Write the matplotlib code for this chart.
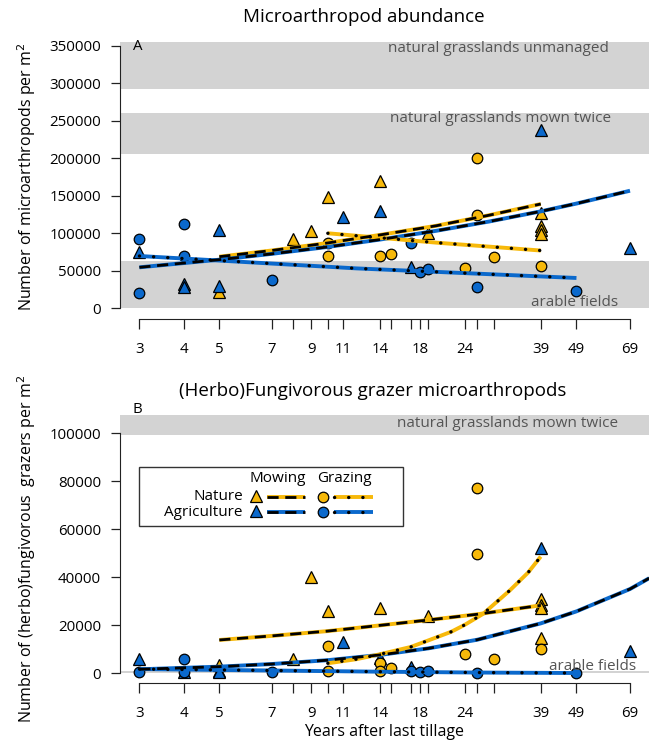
import numpy as np
import matplotlib
matplotlib.use('Agg')
import matplotlib.pyplot as plt
from matplotlib.lines import Line2D
from matplotlib.patches import Rectangle
from matplotlib.ticker import NullLocator, FixedLocator, FixedFormatter

plt.rcParams['font.family'] = ['Open Sans', 'DejaVu Sans']

# ---- data ----
xticks = [3, 4, 5, 7, 8, 9, 10, 11, 14, 15, 17, 18, 19, 24, 26, 29, 39, 49, 69]
xlabeled = [3, 4, 5, 7, 9, 11, 14, 18, 24, 39, 49, 69]

# panel A: total microarthropod abundance
a_natmow_t = [5, 8, 9, 10, 14, 19, 39, 39, 39, 39]
a_natmow_y = [22000, 92000, 103000, 148000, 170000, 101000, 127000, 110000, 104000, 99000]
a_agrmow_t = [3, 4, 4, 5, 5, 11, 14, 17, 39, 69]
a_agrmow_y = [75000, 33000, 29000, 104000, 30000, 122000, 130000, 55000, 238000, 80000]
a_natgra_t = [10, 10, 14, 15, 24, 26, 26, 29, 39]
a_natgra_y = [87000, 70000, 70000, 73000, 54000, 200000, 124000, 68000, 57000]
a_agrgra_t = [3, 3, 4, 4, 7, 17, 18, 19, 26, 49]
a_agrgra_y = [92000, 21000, 112000, 70000, 38000, 87000, 48000, 52000, 29000, 23000]

# panel A fitted trends
a_fit_natmow_t = [5, 7, 10, 14, 20, 28, 39]
a_fit_natmow_y = [68800, 77100, 87100, 97900, 110000, 124000, 139000]
a_fit_agrmow_t = [3, 5, 7, 10, 14, 20, 28, 39, 49, 69]
a_fit_agrmow_y = [54600, 64800, 72600, 81800, 91700, 103300, 115600, 129200, 139600, 156700]
a_fit_natgra_t = [10, 20, 39]
a_fit_natgra_y = [100000, 87500, 77000]
a_fit_agrgra_t = [3, 12, 49]
a_fit_agrgra_y = [69700, 53200, 40400]

# panel B: (herbo)fungivorous grazers
b_natmow_t = [5, 8, 9, 10, 14, 19, 39, 39, 39, 39]
b_natmow_y = [3500, 5800, 40000, 26000, 27100, 24000, 30800, 28500, 27000, 14600]
b_agrmow_t = [3, 4, 5, 5, 11, 14, 17, 39, 69]
b_agrmow_y = [5800, 500, 1000, 500, 12900, 6500, 2700, 52000, 9300]
b_natgra_t = [10, 10, 14, 14, 15, 24, 26, 26, 29, 39]
b_natgra_y = [11500, 1000, 4500, 1000, 2300, 8000, 77300, 49700, 5800, 10100]
b_agrgra_t = [3, 4, 4, 7, 17, 18, 19, 26, 49]
b_agrgra_y = [500, 6000, 500, 500, 1000, 500, 1000, 100, 0]

b_fit_natmow_t = [5, 7, 10, 14, 19, 26, 39]
b_fit_natmow_y = [13900, 15600, 17600, 20000, 22200, 24600, 28300]
b_fit_agrmow_t = [3, 5, 7, 10, 14, 19, 26, 39, 49, 69, 78]
b_fit_agrmow_y = [1700, 2800, 3900, 5500, 7700, 10400, 14000, 20800, 25800, 35100, 39600]
b_fit_natgra_t = [10, 12, 14, 17, 19, 22, 24, 27, 32, 36, 39]
b_fit_natgra_y = [4200, 5900, 8000, 11000, 13700, 17300, 20200, 24800, 34500, 42000, 48600]
b_fit_agrgra_t = [3, 7, 14, 26, 49]
b_fit_agrgra_y = [1800, 1200, 700, 350, 150]

ORANGE = '#F7B90A'
BLUE = '#0B69CC'
BAND = '#D3D3D3'
BANDTXT = '#555555'

W, H = 655, 744
fig = plt.figure(figsize=(W / 100, H / 100), dpi=100)

def fx(px):
    return px / W

def fy(py):
    return 1 - py / H

ax1 = fig.add_axes([fx(120), fy(318.8), fx(649) - fx(120), fy(35.2) - fy(318.8)])
ax2 = fig.add_axes([fx(120), fy(683), fx(649) - fx(120), fy(415) - fy(683)])

DASH = (4.0, 2.4)
DOT = (0.05, 4.2)


def trend(ax, t, y, col, style):
    ax.plot(t, y, color=col, lw=2.8, solid_capstyle='butt', zorder=4)
    if style == 'dash':
        ax.plot(t, y, color='black', lw=2.0, dashes=DASH, dash_capstyle='butt', zorder=5)
    else:
        ax.plot(t, y, color='black', lw=2.4, dashes=DOT, dash_capstyle='round', zorder=5)


def pts(ax, t, y, col, mk):
    ms = 9 if mk == '^' else 7.6
    ax.plot(t, y, ls='none', marker=mk, ms=ms, mfc=col, mec='black', mew=0.9, zorder=3)


def setup(ax, ylim, yticks, ybound):
    ax.set_xscale('log')
    ax.set_xlim(2.65, 77.9)
    ax.set_ylim(*ylim)
    for s in ['top', 'right']:
        ax.spines[s].set_visible(False)
    ax.spines['left'].set_bounds(ybound)
    ax.spines['bottom'].set_bounds(3, 69)
    ax.spines['left'].set_color('#222222')
    ax.spines['bottom'].set_color('#222222')
    ax.xaxis.set_major_locator(FixedLocator(xticks))
    ax.xaxis.set_major_formatter(FixedFormatter([str(v) if v in xlabeled else '' for v in xticks]))
    ax.xaxis.set_minor_locator(NullLocator())
    ax.set_yticks(yticks)
    ax.set_yticklabels([str(v) for v in yticks])
    ax.tick_params(axis='x', length=7.5, width=0.9, pad=9, labelsize=10.8, colors='#222222', labelcolor='black')
    ax.tick_params(axis='y', length=6.7, width=0.9, pad=7, labelsize=10.8, colors='#222222', labelcolor='black')


# ---- panel A ----
setup(ax1, (-14000, 364000), list(range(0, 350001, 50000)), (0, 350000))
for lo, hi in [(292500, 355000), (206000, 260500), (0, 63000)]:
    ax1.axhspan(lo, hi, color=BAND, lw=0, zorder=0)
pts(ax1, a_natmow_t, a_natmow_y, ORANGE, '^')
pts(ax1, a_agrmow_t, a_agrmow_y, BLUE, '^')
pts(ax1, a_natgra_t, a_natgra_y, ORANGE, 'o')
pts(ax1, a_agrgra_t, a_agrgra_y, BLUE, 'o')
trend(ax1, a_fit_natmow_t, a_fit_natmow_y, ORANGE, 'dash')
trend(ax1, a_fit_agrmow_t, a_fit_agrmow_y, BLUE, 'dash')
trend(ax1, a_fit_natgra_t, a_fit_natgra_y, ORANGE, 'dot')
trend(ax1, a_fit_agrgra_t, a_fit_agrgra_y, BLUE, 'dot')
ax1.set_ylabel('Number of microarthropods per m$^2$', fontsize=11.5, labelpad=8)

# ---- panel B ----
setup(ax2, (-4000, 107500), list(range(0, 100001, 20000)), (0, 100000))
ax2.axhspan(99300, 107500, color=BAND, lw=0, zorder=0)
ax2.axhspan(0, 900, color=BAND, lw=0, zorder=0)
pts(ax2, b_natmow_t, b_natmow_y, ORANGE, '^')
pts(ax2, b_agrmow_t, b_agrmow_y, BLUE, '^')
pts(ax2, b_natgra_t, b_natgra_y, ORANGE, 'o')
pts(ax2, b_agrgra_t, b_agrgra_y, BLUE, 'o')
trend(ax2, b_fit_natmow_t, b_fit_natmow_y, ORANGE, 'dash')
trend(ax2, b_fit_agrmow_t, b_fit_agrmow_y, BLUE, 'dash')
trend(ax2, b_fit_natgra_t, b_fit_natgra_y, ORANGE, 'dot')
trend(ax2, b_fit_agrgra_t, b_fit_agrgra_y, BLUE, 'dot')
ax2.set_ylabel('Number of (herbo)fungivorous  grazers per m$^2$', fontsize=11.5, labelpad=8)
ax2.set_xlabel('Years after last tillage', fontsize=11.5, labelpad=2)

# ---- titles, panel letters, band labels ----
fig.text(fx(364), fy(17), 'Microarthropod abundance', fontsize=13.5, ha='center', va='center')
fig.text(fx(373), fy(391), '(Herbo)Fungivorous grazer microarthropods', fontsize=13.5, ha='center', va='center')
fig.text(fx(138), fy(46), 'A', fontsize=10.8, ha='center', va='center')
fig.text(fx(137), fy(410), 'B', fontsize=10.8, ha='center', va='center')
for x, y, s in [(609, 49, 'natural grasslands unmanaged'), (611, 118, 'natural grasslands mown twice'),
                (618, 303, 'arable fields'), (618, 423, 'natural grasslands mown twice'),
                (636, 667, 'arable fields')]:
    fig.text(fx(x), fy(y), s, fontsize=11, color=BANDTXT, ha='right', va='center', zorder=6)

# ---- legend (drawn by hand, as in the original) ----
fig.add_artist(Rectangle((fx(139), fy(525.7)), fx(402.7) - fx(139), fy(466.7) - fy(525.7),
                         transform=fig.transFigure, fc='white', ec='#333333', lw=1.0, zorder=6))
fig.text(fx(278), fy(479), 'Mowing', fontsize=11, ha='center', va='center', zorder=7)
fig.text(fx(344), fy(479), 'Grazing', fontsize=11, ha='center', va='center', zorder=7)
for yy, lab, col in [(497, 'Nature', ORANGE), (512, 'Agriculture', BLUE)]:
    fig.text(fx(243), fy(yy), lab, fontsize=11, ha='right', va='center', zorder=7)
    fig.add_artist(Line2D([fx(256)], [fy(yy - 1.5)], marker='^', ms=9, mfc=col, mec='black', mew=0.9,
                          transform=fig.transFigure, zorder=7))
    fig.add_artist(Line2D([fx(323)], [fy(yy)], marker='o', ms=7.6, mfc=col, mec='black', mew=0.9,
                          transform=fig.transFigure, zorder=7))
    fig.add_artist(Line2D([fx(267), fx(305)], [fy(yy), fy(yy)], color=col, lw=2.8, solid_capstyle='butt',
                          transform=fig.transFigure, zorder=7))
    fig.add_artist(Line2D([fx(267), fx(305)], [fy(yy), fy(yy)], color='black', lw=2.0, dashes=DASH,
                          transform=fig.transFigure, zorder=8))
    fig.add_artist(Line2D([fx(334), fx(373)], [fy(yy), fy(yy)], color=col, lw=2.8, solid_capstyle='butt',
                          transform=fig.transFigure, zorder=7))
    fig.add_artist(Line2D([fx(334), fx(373)], [fy(yy), fy(yy)], color='black', lw=2.4, dashes=DOT,
                          dash_capstyle='round', transform=fig.transFigure, zorder=8))

fig.savefig('out.png', dpi=100)
